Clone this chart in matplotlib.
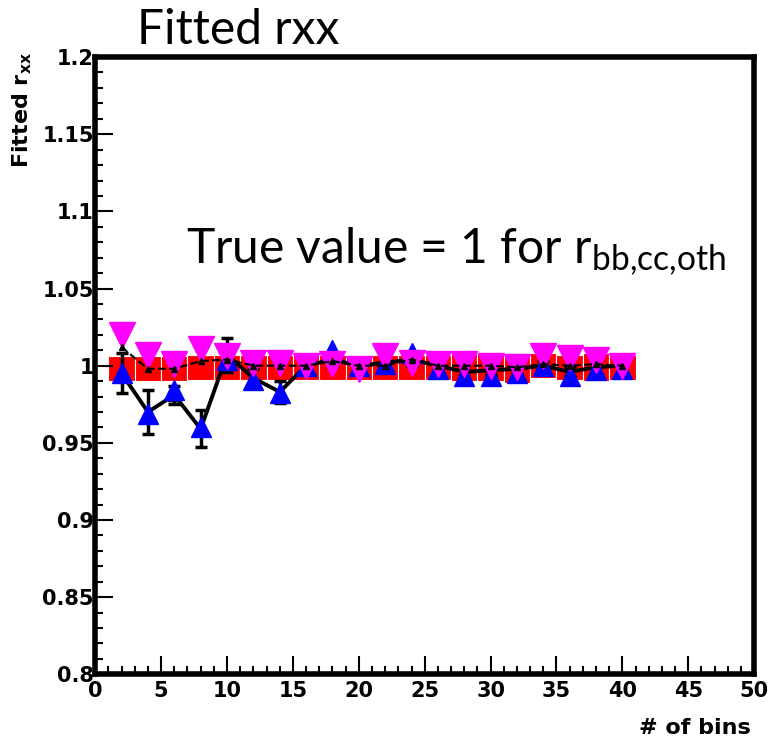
import numpy as np
import matplotlib
matplotlib.use("Agg")
import matplotlib.pyplot as plt
from matplotlib.ticker import MultipleLocator

plt.rcParams['mathtext.fontset'] = 'custom'
plt.rcParams['mathtext.rm'] = 'Lato'
plt.rcParams['mathtext.bf'] = 'DejaVu Sans:bold'

# number of bins
nbins = np.arange(2, 41, 2)

# red boxes (center, half height)
red_c = [0.998, 0.998, 0.998, 0.999, 0.999, 0.999, 0.999, 0.999, 0.999, 0.999,
         0.999, 0.999, 0.999, 0.999, 0.999, 0.998, 1.000, 0.999, 0.999, 0.999]
red_h = [0.008, 0.008, 0.008, 0.008, 0.008, 0.008, 0.008, 0.008, 0.008, 0.008,
         0.008, 0.008, 0.008, 0.009, 0.009, 0.009, 0.008, 0.008, 0.009, 0.008]

# black, with errors
blk = [0.995, 0.970, 0.981, 0.959, 1.007, 0.992, 0.983, 1.000, 1.004, 1.000,
       1.002, 1.004, 1.000, 0.996, 0.997, 0.998, 1.000, 0.996, 0.999, 1.000]
blk_err = [0.013, 0.014, 0.006, 0.012, 0.011, 0.006, 0.007, 0.004, 0.004, 0.004,
           0.004, 0.004, 0.003, 0.003, 0.003, 0.003, 0.003, 0.003, 0.003, 0.003]

# black dashed
blk2 = [1.012, 0.998, 0.998, 1.003, 1.004, 1.000, 1.000, 1.000, 1.003, 1.000,
        1.000, 1.004, 1.000, 1.000, 1.000, 0.999, 1.001, 1.000, 1.001, 1.000]

blue = [0.995, 0.969, 0.984, 0.960, 1.004, 0.991, 0.982, 1.000, 1.010, 1.000,
        1.001, 1.008, 0.998, 0.993, 0.993, 0.995, 1.000, 0.993, 0.997, 0.998]

magenta = [1.020, 1.007, 1.001, 1.011, 1.006, 1.002, 1.002, 1.000, 1.001, 0.998,
           1.006, 1.002, 1.001, 1.001, 1.000, 0.999, 1.006, 1.005, 1.004, 1.000]

ytick_vals = [0.8, 0.85, 0.9, 0.95, 1.0, 1.05, 1.1, 1.15, 1.2]
ytick_labs = ['0.8', '0.85', '0.9', '0.95', '1', '1.05', '1.1', '1.15', '1.2']

fig = plt.figure(figsize=(7.68, 7.41), dpi=100)
ax = fig.add_axes([0.124, 0.090, 0.858, 0.833])

ax.bar(nbins, 2 * np.array(red_h), bottom=np.array(red_c) - np.array(red_h),
       width=2, color='red', edgecolor='white', linewidth=0.8, zorder=1)
ax.errorbar(nbins, blk, yerr=blk_err, color='black', lw=2.8, marker='^', ms=9,
            capsize=4, capthick=2.5, elinewidth=2.5, zorder=2)
ax.plot(nbins, blue, linestyle='none', marker='^', ms=15, color='blue', zorder=3)
ax.plot(nbins, magenta, linestyle='none', marker='v', ms=19, color='magenta', zorder=4)
ax.plot(nbins, blk2, color='black', lw=1.5, ls='--', marker='^', ms=5, zorder=5)

ax.set_xlim(0, 50)
ax.set_ylim(0.8, 1.2)
ax.xaxis.set_major_locator(MultipleLocator(5))
ax.xaxis.set_minor_locator(MultipleLocator(1))
ax.yaxis.set_minor_locator(MultipleLocator(0.01))
ax.set_yticks(ytick_vals)
ax.set_yticklabels(ytick_labs)
ax.tick_params(which='both', direction='in', width=1.5, top=False, right=False,
               labelsize=15)
ax.tick_params(axis='y', pad=1)
ax.tick_params(axis='x', pad=5)
ax.tick_params(which='major', length=13)
ax.tick_params(which='minor', length=6)
for lab in ax.get_xticklabels() + ax.get_yticklabels():
    lab.set_fontfamily('DejaVu Sans')
    lab.set_fontweight('bold')
for sp in ax.spines.values():
    sp.set_linewidth(4)

fig.text(238 / 768, 1 - 30 / 741, 'Fitted rxx', fontsize=34.5, family='Lato',
         ha='center', va='center')
ax.text(6.9, 1.074, r'True value = 1 for r$_\mathrm{bb{,}cc{,}oth}$', fontsize=34.5,
        family='Lato', ha='left', va='center')
fig.text(0.029, 1 - 52 / 741, r'Fitted r$_\mathbf{xx}$', rotation=90, fontsize=16,
         family='DejaVu Sans', fontweight='bold', ha='center', va='top')
fig.text(751 / 768, 1 - 728 / 741, '# of bins', fontsize=16, family='DejaVu Sans',
         fontweight='bold', ha='right', va='center')

fig.savefig('out.png', dpi=100)
